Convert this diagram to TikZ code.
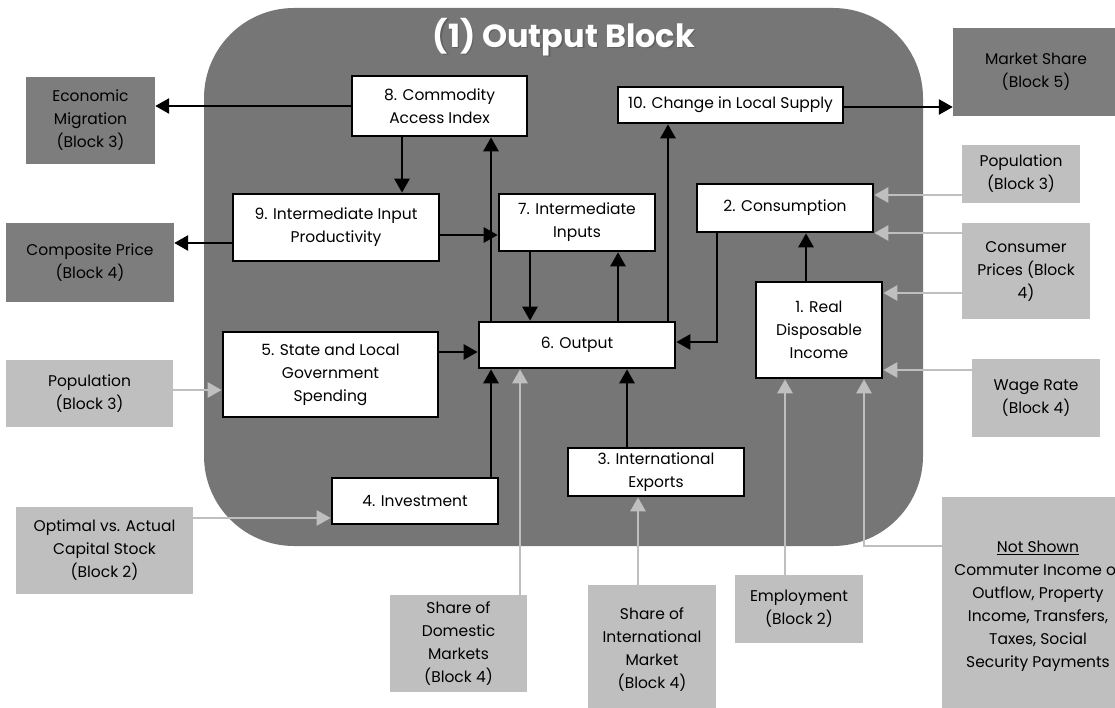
\documentclass[tikz,border=0pt]{standalone}
\usepackage{fontspec}
\setmainfont{Poppins}
\usetikzlibrary{arrows.meta}
\definecolor{blockgray}{HTML}{767676}
\definecolor{outgray}{HTML}{7D7D7D}
\definecolor{inputgray}{HTML}{BFBFBF}
\newcommand\boxfont{\fontsize{15.5}{23}\selectfont}

\begin{document}
\begin{tikzpicture}[x=1pt,y=-1pt,
  eq/.style={draw=black,line width=2.6pt,fill=white,inner sep=0pt,align=center,font=\boxfont},
  outblk/.style={fill=outgray,inner sep=0pt,align=center,font=\boxfont},
  inblk/.style={fill=inputgray,inner sep=0pt,align=center,font=\boxfont},
  flow/.style={line width=2.6pt,-{Triangle[length=14pt,width=15pt]}},
  feed/.style={draw=inputgray,line width=2.6pt,-{Triangle[length=14pt,width=15pt]}}]
\useasboundingbox (0,0) rectangle (1115,708);
\clip (0,0) rectangle (1115,708);
%\draw [lightgray](0,0) grid[step=50] (1115,708);

% output block
\fill[blockgray, rounded corners=90pt] (204,8) rectangle (923,546);
\node[text=black!70, opacity=.5, font=\bfseries\fontsize{32}{38}\selectfont] (titleshade) at (565.5,38.5) {(1) Output Block};
\node[text=white, font=\bfseries\fontsize{32}{38}\selectfont] (title) at (564,37) {(1) Output Block};

% equations
\node[eq, minimum width=175pt, minimum height=60pt] (n8) at (439.5,106) {8. Commodity\\Access Index};
\node[eq, minimum width=225pt, minimum height=36pt] (n10) at (730.5,105) {10. Change in Local Supply};
\node[eq, minimum width=206pt, minimum height=67pt] (n9) at (336,227.5) {9. Intermediate Input\\Productivity};
\node[eq, minimum width=156pt, minimum height=57pt] (n7) at (577,222.5) {7. Intermediate\\Inputs};
\node[eq, minimum width=176pt, minimum height=48pt] (n2) at (785,208) {2. Consumption};
\node[eq, minimum width=126pt, minimum height=96pt] (n1) at (819,330) {1. Real\\Disposable\\Income};
\node[eq, minimum width=215pt, minimum height=85pt] (n5) at (330.5,374.5) {5. State and Local\\Government\\Spending};
\node[eq, minimum width=196pt, minimum height=46pt] (n6) at (577,345) {6. Output};
\node[eq, minimum width=166pt, minimum height=46pt] (n4) at (415,501) {4. Investment};
\node[eq, minimum width=176pt, minimum height=48pt] (n3) at (656,472) {3. International\\Exports};

% other blocks
\node[outblk, minimum width=129pt, minimum height=87pt] (migr) at (90.5,120.5) {Economic\\Migration\\(Block 3)};
\node[outblk, minimum width=168pt, minimum height=79pt] (comp) at (90,262.5) {Composite Price\\(Block 4)};
\node[outblk, minimum width=166pt, minimum height=88pt] (mshare) at (1036,72) {Market Share\\(Block 5)};
\node[inblk, minimum width=118pt, minimum height=58pt] (popR) at (1021,174) {Population\\(Block 3)};
\node[inblk, minimum width=128pt, minimum height=96pt] (cprice) at (1026,271) {Consumer\\Prices (Block\\4)};
\node[inblk, minimum width=128pt, minimum height=78pt] (wage) at (1036,398) {Wage Rate\\(Block 4)};
\node[inblk, minimum width=167pt, minimum height=67pt] (popL) at (89.5,393.5) {Population\\(Block 3)};
\node[inblk, minimum width=177pt, minimum height=87pt] (capst) at (104.5,550.5) {Optimal vs. Actual\\Capital Stock\\(Block 2)};
\node[inblk, minimum width=137pt, minimum height=97pt] (dom) at (458.5,643.5) {Share of\\Domestic\\Markets\\(Block 4)};
\node[inblk, minimum width=128pt, minimum height=130pt] (intl) at (652,650) {Share of\\International\\Market\\(Block 4)};
\node[inblk, minimum width=128pt, minimum height=68pt] (emp) at (799,609) {Employment\\(Block 2)};
\node[inblk, minimum width=192pt, minimum height=219pt] (other) at (1038,606) {\underline{Not Shown}\\Commuter Income or\\Outflow, Property\\Income, Transfers,\\Taxes, Social\\Security Payments};

% lanes
\coordinate (l89) at (402,0);
\coordinate (l68) at (491,0);
\coordinate (l76) at (530,0);
\coordinate (l67) at (618,0);
\coordinate (l610) at (668,0);
\coordinate (l36) at (627,0);
\coordinate (l12) at (806,0);
\coordinate (ldom) at (520,0);
\coordinate (lint) at (638,0);
\coordinate (lemp) at (785,0);
\coordinate (b26) at (717,342);
\coordinate (bother) at (864,546);
\coordinate (h97) at (0,235);
\coordinate (h9c) at (0,243);
\coordinate (h56) at (0,352);
\coordinate (hpop) at (0,390);
\coordinate (hcap) at (0,518);
\coordinate (hpr) at (0,195);
\coordinate (hcp2) at (0,233);
\coordinate (hcp1) at (0,293);
\coordinate (hwage) at (0,370);
\coordinate (hms) at (0,107);

\draw[flow] (n8.west) -- (n8.west -| migr.east);
\draw[flow] (n8.south -| l89) -- (n9.north -| l89);
\draw[flow] (n9.west |- h9c) -- (comp.east |- h9c);
\draw[flow] (n9.east |- h97) -- (n7.west |- h97);
\draw[flow] (n6.north -| l68) -- (n8.south -| l68);
\draw[flow] (n7.south -| l76) -- (n6.north -| l76);
\draw[flow] (n6.north -| l67) -- (n7.south -| l67);
\draw[flow] (n6.north -| l610) -- (n10.south -| l610);
\draw[flow] (n10.east |- hms) -- (mshare.west |- hms);
\draw[flow] (b26 |- n2.south) -- (b26) -- (b26 -| n6.east);
\draw[flow] (n1.north -| l12) -- (n2.south -| l12);
\draw[flow] (n5.east |- h56) -- (n6.west |- h56);
\draw[flow] (n4.north -| l68) -- (n6.south -| l68);
\draw[flow] (n3.north -| l36) -- (n6.south -| l36);

\draw[feed] (popL.east |- hpop) -- (n5.west |- hpop);
\draw[feed] (capst.east |- hcap) -- (n4.west |- hcap);
\draw[feed] (dom.north -| ldom) -- (n6.south -| ldom);
\draw[feed] (intl.north -| lint) -- (n3.south -| lint);
\draw[feed] (emp.north -| lemp) -- (n1.south -| lemp);
\draw[feed] (other.west |- bother) -- (bother) -- (bother |- n1.south);
\draw[feed] (wage.west |- hwage) -- (n1.east |- hwage);
\draw[feed] (popR.west |- hpr) -- (n2.east |- hpr);
\draw[feed] (cprice.west |- hcp2) -- (n2.east |- hcp2);
\draw[feed] (cprice.west |- hcp1) -- (n1.east |- hcp1);
\end{tikzpicture}
\end{document}
